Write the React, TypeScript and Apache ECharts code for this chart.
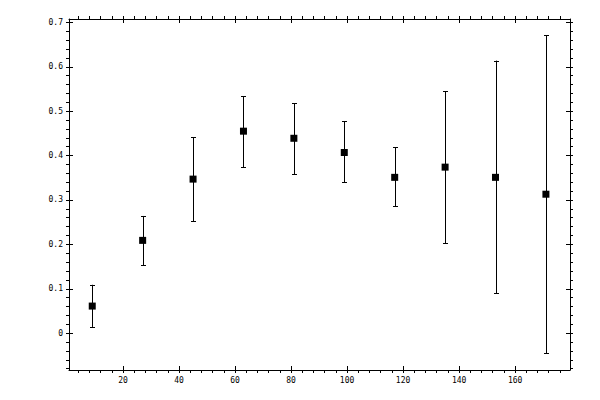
import React, { useEffect, useRef } from 'react'
import * as echarts from 'echarts'

// measurement positions and values with their error ranges
const xs = [9, 27, 45, 63, 81, 99, 117, 135, 153, 171]
const means = [0.061, 0.209, 0.347, 0.455, 0.439, 0.407, 0.351, 0.374, 0.351, 0.313]
const lows = [0.014, 0.153, 0.252, 0.374, 0.358, 0.340, 0.286, 0.203, 0.090, -0.045]
const highs = [0.109, 0.264, 0.441, 0.534, 0.518, 0.477, 0.419, 0.545, 0.614, 0.671]

// axis ranges and ticks
const xRange = [0.7, 179.6]
const yRange = [-0.083, 0.7077]
const xMajorTicks = [20, 40, 60, 80, 100, 120, 140, 160]
const yMajorTicks = [0, 0.1, 0.2, 0.3, 0.4, 0.5, 0.6, 0.7]
const xMinorStep = 4
const yMinorStep = 0.02

const range = (a: number, b: number, step: number) => {
  const out: number[] = []
  const n = Math.round((b - a) / step)
  for (let i = 0; i <= n; i++) out.push(Math.round((a + i * step) * 1000) / 1000)
  return out
}
const xAllTicks = range(4, 176, xMinorStep)
const yAllTicks = range(-0.08, 0.7, yMinorStep)

const FONT = 'DejaVu Sans Mono'
const black = '#000'

function axisPair(dim: 'x' | 'y', position: string, labels: boolean) {
  const [min, max] = dim === 'x' ? xRange : yRange
  const all = dim === 'x' ? xAllTicks : yAllTicks
  const major = dim === 'x' ? xMajorTicks : yMajorTicks
  const outer = {
    type: 'value', position, min, max,
    axisLine: { show: true, onZero: false, lineStyle: { color: black, width: 1 } },
    axisTick: { show: true, inside: false, length: 3, customValues: all, lineStyle: { color: black, width: 1 } },
    axisLabel: labels ? {
      show: true, customValues: major, color: black, fontFamily: FONT, fontSize: 8,
      margin: 6,
      formatter: (v: number) => (v === 0 ? '0' : String(v))
    } : { show: false },
    splitLine: { show: false }
  }
  const inner = {
    type: 'value', position, min, max,
    axisLine: { show: false, onZero: false },
    axisTick: { show: true, inside: true, length: 4, customValues: major, lineStyle: { color: black, width: 1 } },
    axisLabel: { show: false },
    splitLine: { show: false }
  }
  return [outer, inner]
}

export default function App() {
  const ref = useRef<HTMLDivElement | null>(null)

  useEffect(() => {
    if (!ref.current) return
    const chart = echarts.init(ref.current, undefined, { renderer: 'svg' })

    const errData = xs.map((x, i) => [x, lows[i], highs[i]])
    const pts = xs.map((x, i) => [x, means[i]])

    const opt: echarts.EChartsOption = {
      animation: false,
      backgroundColor: '#fff',
      grid: { left: 69, right: 30, top: 19, bottom: 30 },
      xAxis: [...axisPair('x', 'bottom', true), ...axisPair('x', 'top', false)] as any,
      yAxis: [...axisPair('y', 'left', true), ...axisPair('y', 'right', false)] as any,
      series: [
        {
          type: 'custom',
          xAxisIndex: 0,
          yAxisIndex: 0,
          data: errData,
          renderItem: (params: any, api: any) => {
            const x = api.value(0)
            const lo = api.coord([x, api.value(1)])
            const hi = api.coord([x, api.value(2)])
            const cx = Math.round(lo[0]) + 0.5
            const cap = 2.5
            const style = { stroke: black, lineWidth: 1 }
            return {
              type: 'group',
              children: [
                { type: 'line', shape: { x1: cx, y1: lo[1], x2: cx, y2: hi[1] }, style },
                { type: 'line', shape: { x1: cx - cap, y1: Math.round(lo[1]) + 0.5, x2: cx + cap, y2: Math.round(lo[1]) + 0.5 }, style },
                { type: 'line', shape: { x1: cx - cap, y1: Math.round(hi[1]) + 0.5, x2: cx + cap, y2: Math.round(hi[1]) + 0.5 }, style }
              ]
            }
          }
        } as any,
        {
          type: 'scatter',
          xAxisIndex: 0,
          yAxisIndex: 0,
          data: pts,
          symbol: 'rect',
          symbolSize: 7,
          itemStyle: { color: black, opacity: 1 }
        }
      ]
    }

    chart.setOption(opt)
    return () => { chart.dispose() }
  }, [])

  return (
    <div
      ref={ref}
      style={{ position: 'fixed', left: 0, top: 0, width: 600, height: 400, background: '#fff' }}
    />
  )
}
